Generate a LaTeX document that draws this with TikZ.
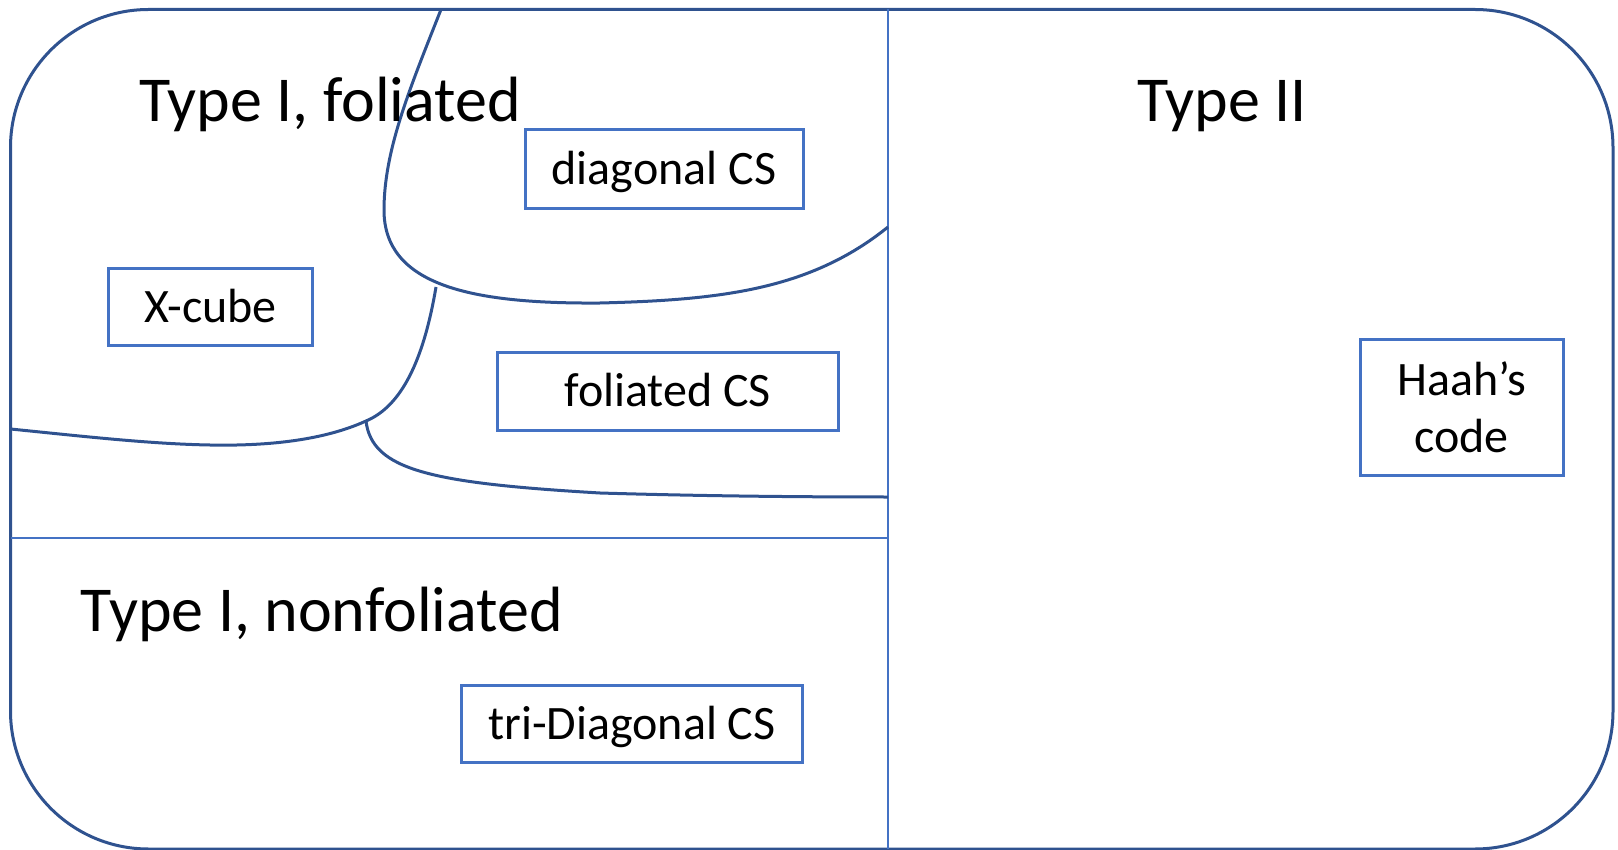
\documentclass[tikz,border=0pt]{standalone}
\usepackage{fontspec}
\setmainfont{Carlito}
\definecolor{outl}{HTML}{2F528F}
\definecolor{acc}{HTML}{4472C4}
\begin{document}
\begin{tikzpicture}[x=0.5pt,y=-0.5pt,
  frame/.style={draw=outl,line width=1.5pt},
  curve/.style={draw=outl,line width=1.5pt},
  divider/.style={draw=acc,line width=1pt},
  title/.style={anchor=base west,inner sep=0pt,font=\fontsize{32}{36}\selectfont},
  qbox/.style={draw=acc,line width=1.5pt,inner sep=0pt,font=\fontsize{24}{28.5}\selectfont},
  oneline/.style={text height=15.2pt,text depth=0pt}]
\useasboundingbox (0,0) rectangle (1618,850);
% outer frame
\draw[frame,rounded corners=69pt] (10.5,9.5) rectangle (1613,849);
% dividers
\coordinate (vtop) at (888,9.5);
\coordinate (vbot) at (888,849);
\coordinate (hl) at (10.5,537.5);
\coordinate (hr) at (888,537.5);
\draw[divider] (vtop) -- (vbot);
\draw[divider] (hl) -- (hr);
% curves
\coordinate (aTop) at (441,9.5);
\coordinate (aEnd) at (888,227);
\coordinate (jAB) at (436,287);
\coordinate (jBC) at (366,421);
\coordinate (bEnd) at (10.5,429);
\coordinate (cEnd) at (888,497);
\draw[curve] (aTop) .. controls (410,88) and (384,150) .. (384,210)
  .. controls (384,285) and (470,304) .. (600,303)
  .. controls (720,300) and (810,290) .. (aEnd);
\draw[curve] (jAB) .. controls (422,370) and (397,408) .. (jBC)
  .. controls (320,442) and (260,446) .. (210,445)
  .. controls (150,444) and (80,436) .. (bEnd);
\draw[curve] (jBC) .. controls (372,470) and (430,483) .. (600,493)
  .. controls (700,496) and (800,497) .. (cEnd);
% titles
\node[title] (t1) at (139,122) {Type I, foliated};
\node[title] (t2) at (1137,122) {Type II};
\node[title] (t3) at (80.5,631.5) {Type I, nonfoliated};
% boxes
\node[qbox,oneline,minimum width=139pt,minimum height=39.25pt] (diag) at (664,169) {diagonal CS};
\node[qbox,oneline,minimum width=102pt,minimum height=38.7pt] (xcube) at (210.5,307) {X-cube};
\node[qbox,oneline,minimum width=170.3pt,minimum height=38.7pt] (fol) at (667.7,391.6) {foliated CS};
\node[qbox,align=center,minimum width=101.7pt,minimum height=68pt] (haah) at (1461.7,407.6) {Haah’s\\code};
\node[qbox,oneline,minimum width=170.7pt,minimum height=38.7pt] (tri) at (632,724) {tri-Diagonal CS};
\end{tikzpicture}
\end{document}
